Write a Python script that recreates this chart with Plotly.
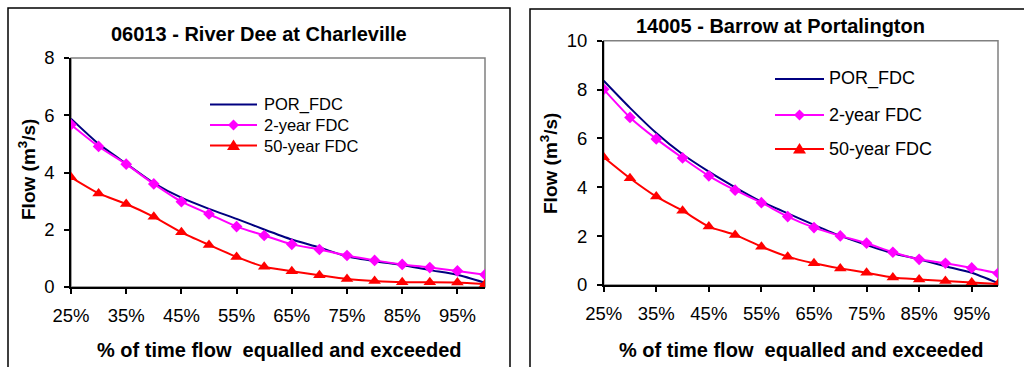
import plotly.graph_objects as go

# ---- data ----
pct = [25, 30, 35, 40, 45, 50, 55, 60, 65, 70, 75, 80, 85, 90, 95, 100]
x_ticks = [25, 35, 45, 55, 65, 75, 85, 95]
x_tick_labels = ["25%", "35%", "45%", "55%", "65%", "75%", "85%", "95%"]

left_title = "06013 - River Dee at Charleville"
left_por = [5.88, 5.00, 4.31, 3.63, 3.12, 2.73, 2.38, 2.01, 1.66, 1.38, 1.07, 0.90, 0.77, 0.59, 0.43, 0.15]
left_2yr = [5.67, 4.91, 4.29, 3.60, 2.98, 2.55, 2.11, 1.80, 1.49, 1.31, 1.10, 0.93, 0.79, 0.68, 0.56, 0.43]
left_50yr = [3.83, 3.27, 2.90, 2.45, 1.91, 1.47, 1.05, 0.71, 0.55, 0.41, 0.28, 0.21, 0.17, 0.17, 0.16, 0.10]

right_title = "14005 - Barrow at Portalington"
right_por = [8.36, 7.25, 6.22, 5.35, 4.64, 4.00, 3.41, 2.93, 2.46, 2.01, 1.64, 1.30, 1.05, 0.77, 0.50, 0.08]
right_2yr = [8.01, 6.86, 5.98, 5.20, 4.47, 3.88, 3.37, 2.80, 2.35, 2.01, 1.71, 1.34, 1.05, 0.89, 0.70, 0.48]
right_50yr = [5.23, 4.37, 3.62, 3.04, 2.39, 2.05, 1.57, 1.16, 0.89, 0.68, 0.50, 0.31, 0.23, 0.16, 0.10, 0.04]

series_names = ["POR_FDC", "2-year FDC", "50-year FDC"]
x_title = "% of time flow  equalled and exceeded"
y_title = "Flow (m<sup>3</sup>/s)"

W, H = 1024, 367
FONT = "Liberation Sans, Arial, sans-serif"
NAVY = "#000080"
MAG = "#FF00FF"
RED = "#FF0000"
colors = [NAVY, MAG, RED]

fig = go.Figure()


def add_series(xa, ya, por, two, fifty):
    fig.add_trace(go.Scatter(x=pct, y=por, name=series_names[0], mode="lines",
                             line=dict(color=NAVY, width=2, shape="spline", smoothing=0.6),
                             xaxis=xa, yaxis=ya, showlegend=False))
    fig.add_trace(go.Scatter(x=pct, y=two, name=series_names[1], mode="lines+markers",
                             line=dict(color=MAG, width=2, shape="spline", smoothing=0.6),
                             marker=dict(symbol="diamond", size=9, color=MAG),
                             xaxis=xa, yaxis=ya, showlegend=False))
    fig.add_trace(go.Scatter(x=pct, y=fifty, name=series_names[2], mode="lines+markers",
                             line=dict(color=RED, width=2, shape="spline", smoothing=0.6),
                             marker=dict(symbol="triangle-up", size=11, color=RED),
                             xaxis=xa, yaxis=ya, showlegend=False))


add_series("x", "y", left_por, left_2yr, left_50yr)
add_series("x2", "y2", right_por, right_2yr, right_50yr)

axis_common = dict(showgrid=False, zeroline=False, showline=True, linecolor="black",
                   linewidth=1.5, ticks="outside", ticklen=5, tickwidth=1.5, tickcolor="black",
                   automargin=False,
                   tickfont=dict(family=FONT, size=18.5, color="black"))

fig.update_layout(
    width=W, height=H, margin=dict(l=0, r=0, t=0, b=0, pad=0), autosize=False,
    paper_bgcolor="white", plot_bgcolor="white", showlegend=False,
    font=dict(family=FONT, color="black"),
    xaxis=dict(domain=[71 / W, 485 / W], range=[25, 100], tickvals=x_ticks,
               ticktext=x_tick_labels, anchor="y", ticklabelstandoff=6, **axis_common),
    yaxis=dict(domain=[1 - 287 / H, 1 - 58 / H], range=[0, 8], dtick=2, anchor="x",
               ticklabelstandoff=6, **axis_common),
    xaxis2=dict(domain=[603.7 / W, 998 / W], range=[25, 100], tickvals=x_ticks,
                ticktext=x_tick_labels, anchor="y2", ticklabelstandoff=6, **axis_common),
    yaxis2=dict(domain=[1 - 285 / H, 1 - 40.7 / H], range=[0, 10], dtick=2, anchor="x2",
                ticklabelstandoff=6, **axis_common),
)

# outer chart frames
fig.add_shape(type="rect", xref="paper", yref="paper", x0=8 / W, x1=510 / W,
              y0=-0.05, y1=1 - 8 / H, line=dict(color="black", width=1.5), layer="below")
fig.add_shape(type="rect", xref="paper", yref="paper", x0=530 / W, x1=1.05,
              y0=-0.05, y1=1 - 9 / H, line=dict(color="black", width=1.5), layer="below")
# plot area borders (gray)
for xr, yr in (("x domain", "y domain"), ("x2 domain", "y2 domain")):
    fig.add_shape(type="rect", xref=xr, yref=yr, x0=0, x1=1, y0=0, y1=1,
                  line=dict(color="#808080", width=1.5), layer="below")

ann = [
    dict(text="<b>" + left_title + "</b>", x=259 / W, y=1 - 34 / H, size=20),
    dict(text="<b>" + right_title + "</b>", x=780 / W, y=1 - 26 / H, size=20),
    dict(text="<b>" + x_title + "</b>", x=279 / W, y=1 - 350 / H, size=20),
    dict(text="<b>" + x_title + "</b>", x=801 / W, y=1 - 350 / H, size=20),
    dict(text="<b>" + y_title + "</b>", x=27 / W, y=1 - 170 / H, size=19, textangle=-90),
    dict(text="<b>" + y_title + "</b>", x=549 / W, y=1 - 164 / H, size=19, textangle=-90),
]
for a in ann:
    size = a.pop("size")
    fig.add_annotation(xref="paper", yref="paper", showarrow=False, xanchor="center",
                       yanchor="middle", font=dict(family=FONT, size=size, color="black"), **a)

# ---- legends (drawn as key lines + symbols + text) ----
DIAMOND = "M0,5.5 L5.5,0 L0,-5.5 L-5.5,0 Z"
TRIANGLE = "M-6.5,-4.5 L6.5,-4.5 L0,6 Z"


def add_legend(x_line0, x_line1, x_text, rows, fsize):
    xm = (x_line0 + x_line1) / 2
    for i, (name, col, yrow) in enumerate(zip(series_names, colors, rows)):
        fig.add_shape(type="line", xref="paper", yref="paper", x0=x_line0 / W, x1=x_line1 / W,
                      y0=1 - yrow / H, y1=1 - yrow / H, line=dict(color=col, width=2))
        if i > 0:
            fig.add_shape(type="path", xref="paper", yref="paper", xsizemode="pixel",
                          ysizemode="pixel", xanchor=xm / W, yanchor=1 - yrow / H,
                          path=DIAMOND if i == 1 else TRIANGLE,
                          fillcolor=col, line=dict(color=col, width=0))
        fig.add_annotation(xref="paper", yref="paper", x=x_text / W, y=1 - yrow / H,
                           text=name, showarrow=False, xanchor="left", yanchor="middle",
                           font=dict(family=FONT, size=fsize, color="black"))


add_legend(210, 257, 262, [104.5, 125, 145.5], 16.5)
add_legend(775, 824, 827, [79, 115, 149], 18)

fig.write_html("out.html", config={"responsive": False},
               post_script="document.body.style.margin='0';")
